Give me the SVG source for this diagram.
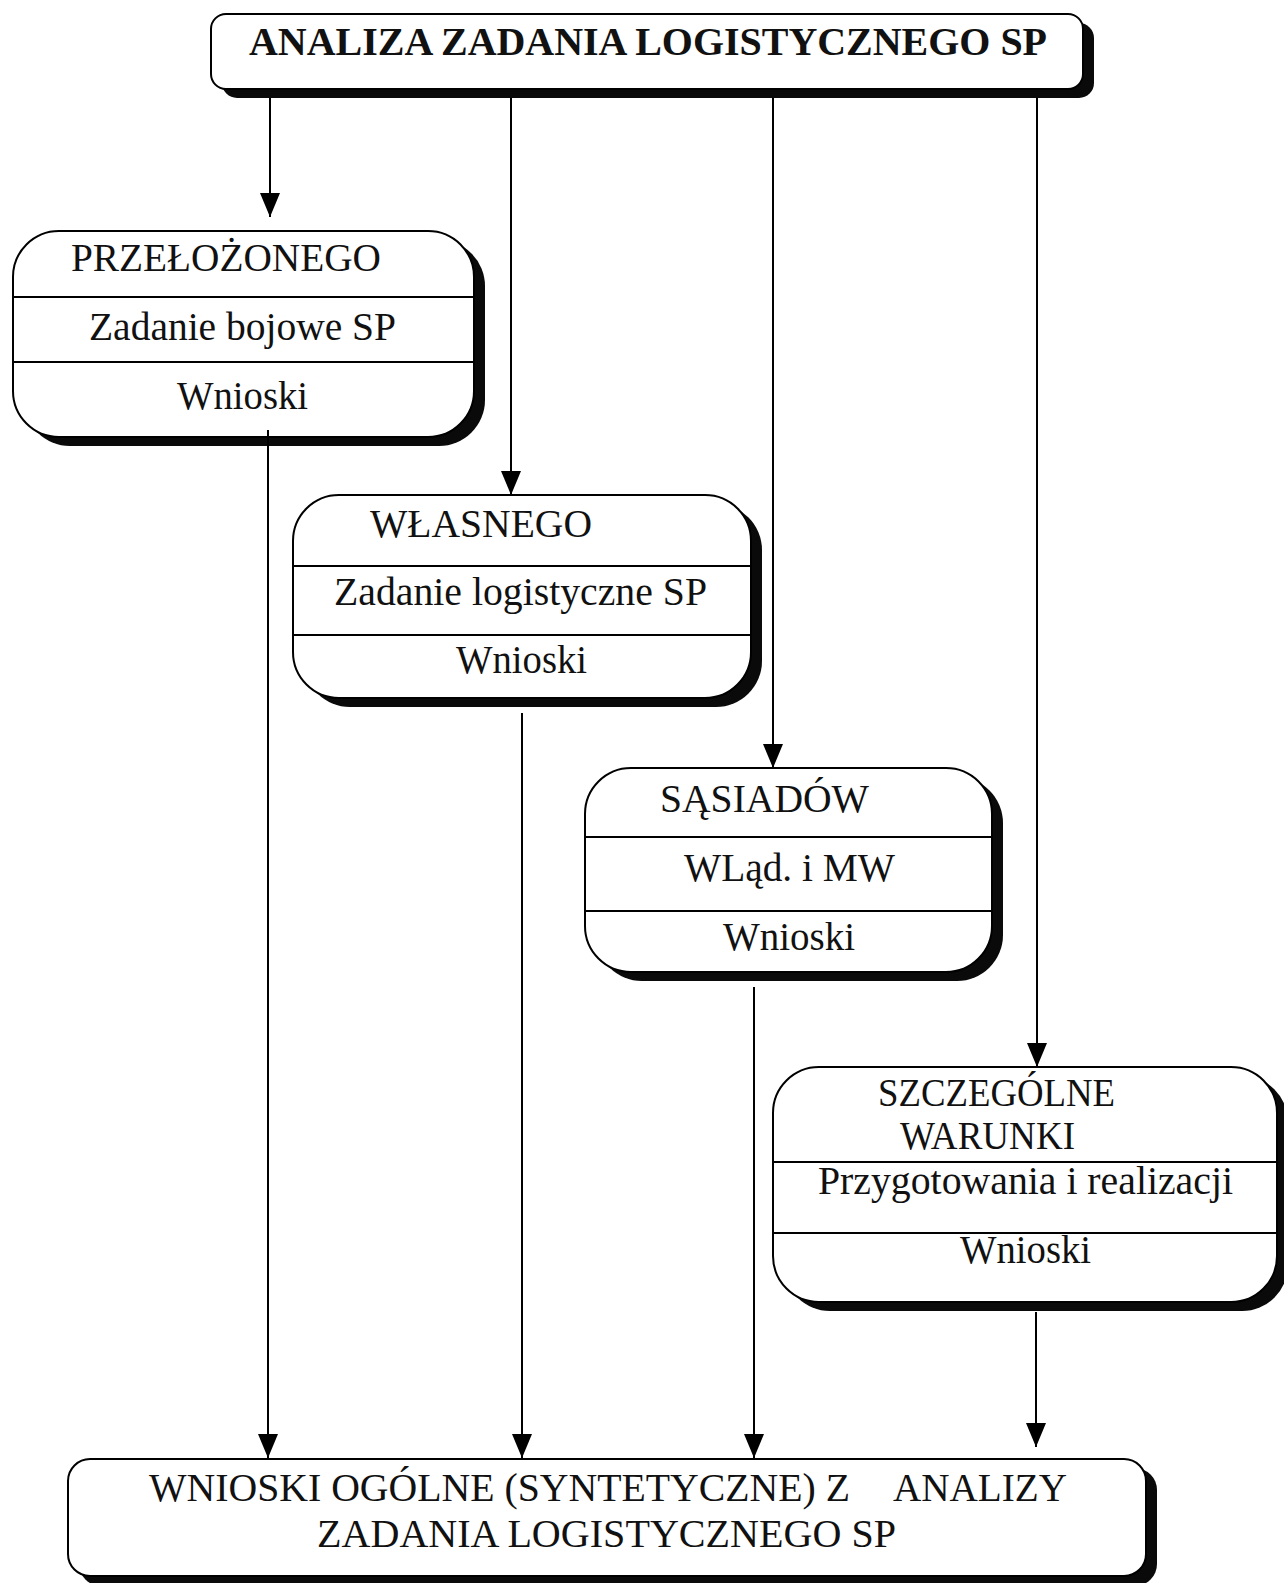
<svg xmlns="http://www.w3.org/2000/svg" width="1284" height="1583" viewBox="0 0 1284 1583">
  <style>
    .box { fill: #ffffff; stroke: #000000; stroke-width: 2; }
    .shadow { fill: #0a0a0a; stroke: none; }
    .div { stroke: #000000; stroke-width: 2; }
    .t { font-family: "Liberation Serif", "Times New Roman", serif; font-size: 39px; fill: #111111; }
    .title { font-family: "Liberation Serif", "Times New Roman", serif; font-size: 40px; font-weight: bold; fill: #111111; }
    .link { stroke: #000000; stroke-width: 2; fill: none; marker-end: url(#arrow); }
  </style>
  <defs>
    <marker id="arrow" markerUnits="userSpaceOnUse" markerWidth="24" markerHeight="20" refX="24" refY="10" orient="auto">
      <path d="M0,0 L24,10 L0,20 Z" fill="#000000"/>
    </marker>
  </defs>
  <rect width="1284" height="1583" fill="#ffffff"/>

  <!-- top: task analysis -->
  <g id="analiza">
    <rect class="shadow" x="222" y="23" width="872" height="75" rx="15"/>
    <rect class="box" x="211" y="14" width="872" height="75" rx="15"/>
    <text class="title" x="249" y="55" textLength="798" lengthAdjust="spacingAndGlyphs">ANALIZA ZADANIA LOGISTYCZNEGO SP</text>
  </g>

  <!-- superior -->
  <g id="przelozonego">
    <rect class="shadow" x="24" y="240" width="461" height="206" rx="46"/>
    <rect class="box" x="13" y="231" width="461" height="206" rx="46"/>
    <line class="div" x1="14" y1="297" x2="473" y2="297"/>
    <line class="div" x1="14" y1="362" x2="473" y2="362"/>
    <text class="t" x="71" y="271" textLength="310" lengthAdjust="spacingAndGlyphs">PRZEŁOŻONEGO</text>
    <text class="t" x="89" y="340" textLength="307" lengthAdjust="spacingAndGlyphs">Zadanie bojowe SP</text>
    <text class="t" x="177" y="409" textLength="131" lengthAdjust="spacingAndGlyphs">Wnioski</text>
  </g>

  <!-- own -->
  <g id="wlasnego">
    <rect class="shadow" x="304" y="504" width="458" height="203" rx="46"/>
    <rect class="box" x="293" y="495" width="458" height="203" rx="46"/>
    <line class="div" x1="294" y1="566" x2="750" y2="566"/>
    <line class="div" x1="294" y1="635" x2="750" y2="635"/>
    <text class="t" x="370" y="537" textLength="222" lengthAdjust="spacingAndGlyphs">WŁASNEGO</text>
    <text class="t" x="334" y="605" textLength="373" lengthAdjust="spacingAndGlyphs">Zadanie logistyczne SP</text>
    <text class="t" x="456" y="673" textLength="131" lengthAdjust="spacingAndGlyphs">Wnioski</text>
  </g>

  <!-- neighbours -->
  <g id="sasiadow">
    <rect class="shadow" x="596" y="777" width="407" height="204" rx="46"/>
    <rect class="box" x="585" y="768" width="407" height="204" rx="46"/>
    <line class="div" x1="586" y1="837" x2="991" y2="837"/>
    <line class="div" x1="586" y1="911" x2="991" y2="911"/>
    <text class="t" x="660" y="812" textLength="209" lengthAdjust="spacingAndGlyphs">SĄSIADÓW</text>
    <text class="t" x="684" y="881" textLength="211" lengthAdjust="spacingAndGlyphs">WLąd. i MW</text>
    <text class="t" x="723" y="950" textLength="132" lengthAdjust="spacingAndGlyphs">Wnioski</text>
  </g>

  <!-- special conditions -->
  <g id="szczegolne">
    <rect class="shadow" x="784" y="1076" width="504" height="235" rx="46"/>
    <rect class="box" x="773" y="1067" width="504" height="235" rx="46"/>
    <line class="div" x1="774" y1="1162" x2="1276" y2="1162"/>
    <line class="div" x1="774" y1="1233" x2="1276" y2="1233"/>
    <text class="t" x="878" y="1106" textLength="237" lengthAdjust="spacingAndGlyphs">SZCZEGÓLNE</text>
    <text class="t" x="900" y="1149" textLength="175" lengthAdjust="spacingAndGlyphs">WARUNKI</text>
    <text class="t" x="818" y="1194" textLength="415" lengthAdjust="spacingAndGlyphs">Przygotowania i realizacji</text>
    <text class="t" x="960" y="1263" textLength="131" lengthAdjust="spacingAndGlyphs">Wnioski</text>
  </g>

  <!-- general conclusions -->
  <g id="wnioski-ogolne">
    <rect class="shadow" x="79" y="1468" width="1078" height="118" rx="22"/>
    <rect class="box" x="68" y="1459" width="1078" height="117" rx="22"/>
    <text class="t" x="149" y="1501" textLength="701" lengthAdjust="spacingAndGlyphs">WNIOSKI OGÓLNE (SYNTETYCZNE) Z</text>
    <text class="t" x="893" y="1501" textLength="174" lengthAdjust="spacingAndGlyphs">ANALIZY</text>
    <text class="t" x="317" y="1547" textLength="579" lengthAdjust="spacingAndGlyphs">ZADANIA LOGISTYCZNEGO SP</text>
  </g>

  <!-- connectors, drawn last so the stubs inside the boxes stay visible -->
  <g id="connectors">
    <line class="link" x1="270" y1="98" x2="270" y2="217"/>
    <line class="link" x1="511" y1="98" x2="511" y2="495"/>
    <line class="link" x1="773" y1="98" x2="773" y2="768"/>
    <line class="link" x1="1037" y1="98" x2="1037" y2="1067"/>
    <line class="link" x1="268" y1="430" x2="268" y2="1458"/>
    <line class="link" x1="522" y1="713" x2="522" y2="1458"/>
    <line class="link" x1="754" y1="987" x2="754" y2="1458"/>
    <line class="link" x1="1036" y1="1312" x2="1036" y2="1447"/>
  </g>
</svg>
